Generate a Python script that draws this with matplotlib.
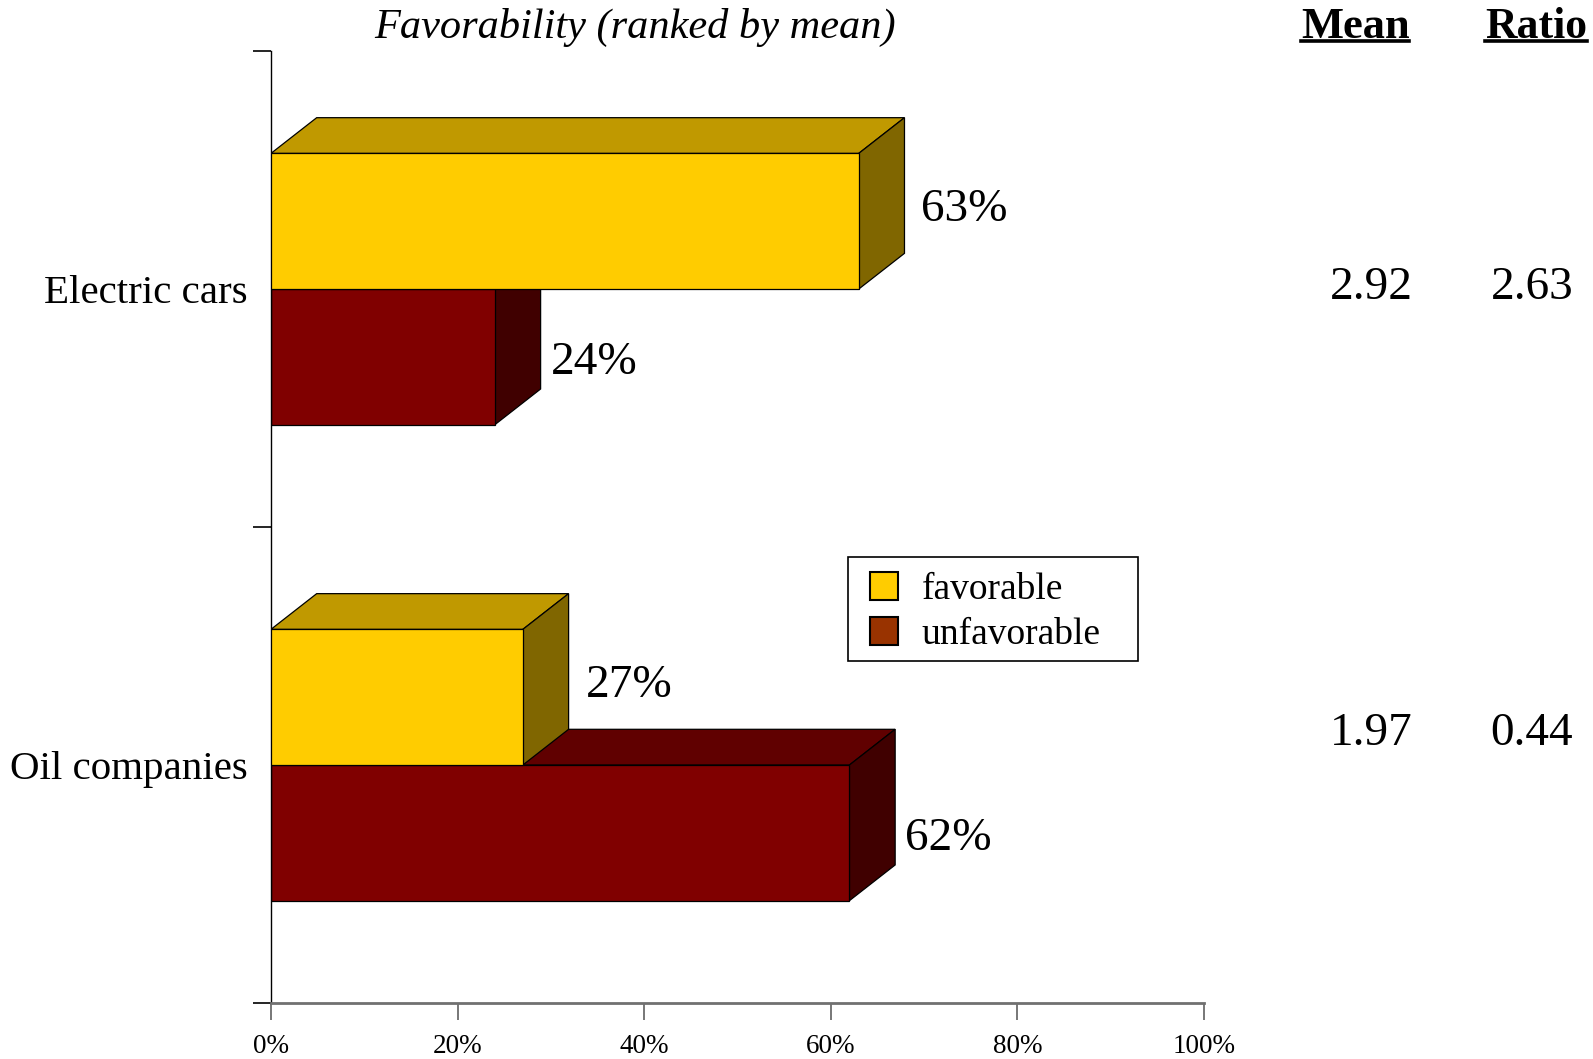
import matplotlib
matplotlib.use("Agg")
import matplotlib.pyplot as plt
from matplotlib.patches import Polygon, Patch, Rectangle
from matplotlib.lines import Line2D
from matplotlib.ticker import FixedLocator

# ---- data ----
categories = ["Electric cars", "Oil companies"]
favorable = [63, 27]
unfavorable = [24, 62]
mean_vals = ["2.92", "1.97"]
ratio_vals = ["2.63", "0.44"]
xticks = [0, 20, 40, 60, 80, 100]
xtick_labels = ["0%", "20%", "40%", "60%", "80%", "100%"]
series_names = ["favorable", "unfavorable"]

# ---- style ----
FONT = "Liberation Serif"
plt.rcParams["font.family"] = [FONT, "DejaVu Serif"]
fav_cols = ("#FFCC00", "#C09900", "#806600")   # front, top, side
unf_cols = ("#800000", "#600000", "#400000")
legend_cols = ["#FFCC00", "#993300"]
H = 0.285      # bar thickness (data units)
DX = 4.9       # 3D depth in x
DY = 0.075     # 3D depth in y

fig = plt.figure(figsize=(15.93, 10.59), dpi=100)
ax = fig.add_axes([0.1701, 0.0529, 0.5857, 0.8989])
ax.set_xlim(0, 100)
ax.set_ylim(0, len(categories))

def draw_bar(v, y0, cols, z):
    ax.barh([y0], [v], height=H, left=0, align="edge", color=cols[0],
            edgecolor="black", linewidth=0.9, zorder=z + 0.2)
    top = [(0, y0 + H), (v, y0 + H), (v + DX, y0 + H + DY), (DX, y0 + H + DY)]
    side = [(v, y0), (v + DX, y0 + DY), (v + DX, y0 + H + DY), (v, y0 + H)]
    ax.add_patch(Polygon(top, closed=True, facecolor=cols[1], edgecolor="black",
                         linewidth=0.9, zorder=z))
    ax.add_patch(Polygon(side, closed=True, facecolor=cols[2], edgecolor="black",
                         linewidth=0.9, zorder=z))

n = len(categories)
for i, cat in enumerate(categories):
    c = n - i - 0.5
    # lower (unfavorable) bar first, favorable drawn on top
    draw_bar(unfavorable[i], c - H, unf_cols, 2)
    draw_bar(favorable[i], c, fav_cols, 3)
    ax.text(favorable[i] + DX + 1.8, c + H / 2 + 0.024, f"{favorable[i]}%",
            ha="left", va="center", fontsize=34, fontfamily=FONT, zorder=5)
    ax.text(unfavorable[i] + DX + 1.1, c - H / 2 - 0.012, f"{unfavorable[i]}%",
            ha="left", va="center", fontsize=34, fontfamily=FONT, zorder=5)

# axes styling
for s in ["top", "right"]:
    ax.spines[s].set_visible(False)
ax.spines["left"].set_color("black")
ax.spines["left"].set_linewidth(1.0)
ax.spines["bottom"].set_color("#707070")
ax.spines["bottom"].set_linewidth(2.0)
ax.spines["bottom"].set_zorder(6)

ax.set_xticks(xticks)
ax.set_xticklabels(xtick_labels, fontsize=19.5, fontfamily=FONT)
ax.tick_params(axis="x", direction="out", length=12, width=1.2, color="#606060", pad=10.5)

ax.yaxis.set_major_locator(FixedLocator([0, 1, 2]))
ax.set_yticklabels([])
ax.tick_params(axis="y", which="major", direction="out", length=13, width=1.2, color="black")
ax.yaxis.set_minor_locator(FixedLocator([n - i - 0.5 for i in range(n)]))
ax.set_yticklabels(categories, minor=True, fontsize=29.5, fontfamily=FONT)
ax.tick_params(axis="y", which="minor", length=0, pad=17)

# legend (frame drawn separately to match the reference box)
fig.add_artist(Rectangle((0.5323, 0.3759), 0.1821, 0.0982, transform=fig.transFigure,
                         facecolor="white", edgecolor="black", linewidth=1.2, zorder=8))
handles = [Patch(facecolor=legend_cols[k], edgecolor="black", linewidth=1.5)
           for k in range(len(series_names))]
leg = fig.legend(handles, series_names, loc="upper left",
                 bbox_to_anchor=(0.5460, 0.4599), bbox_transform=fig.transFigure,
                 prop={"family": FONT, "size": 27},
                 handlelength=0.76, handleheight=0.76, handletextpad=0.62,
                 borderpad=0, labelspacing=0.27, frameon=False, borderaxespad=0)
leg.set_zorder(9)

# header texts
fig.text(0.3986, 0.9645, "Favorability (ranked by mean)", ha="center", va="baseline",
         fontsize=30.5, fontstyle="italic", fontfamily=FONT)
hdr_mean = fig.text(0.8507, 0.9645, "Mean", ha="center", va="baseline",
                    fontsize=32, fontweight="bold", fontfamily=FONT)
hdr_ratio = fig.text(0.9644, 0.9645, "Ratio", ha="center", va="baseline",
                     fontsize=31.5, fontweight="bold", fontfamily=FONT)

value_ys = [0.7285, 0.3073]
for i in range(n):
    fig.text(0.861, value_ys[i], mean_vals[i], ha="center", va="center",
             fontsize=34, fontfamily=FONT)
    fig.text(0.9617, value_ys[i], ratio_vals[i], ha="center", va="center",
             fontsize=34, fontfamily=FONT)

# underline headers
fig.canvas.draw()
r = fig.canvas.get_renderer()
for t in (hdr_mean, hdr_ratio):
    bb = t.get_window_extent(r).transformed(fig.transFigure.inverted())
    fig.add_artist(Line2D([bb.x0, bb.x1], [0.9613, 0.9613], transform=fig.transFigure,
                          color="black", linewidth=2.6))

fig.savefig("out.png", dpi=100)
